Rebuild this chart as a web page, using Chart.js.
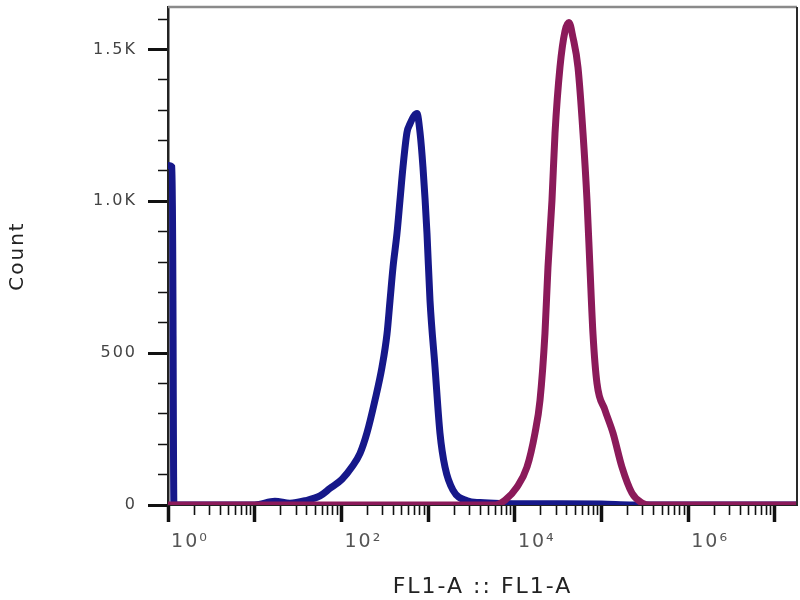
<!DOCTYPE html>
<html>
<head>
<meta charset="utf-8">
<title>FL1-A histogram</title>
<script src="https://cdn.jsdelivr.net/npm/chart.js@4.4.1/dist/chart.umd.min.js"></script>
<style>
  html, body { margin: 0; padding: 0; background: #fff; }
  #wrap { width: 800px; height: 600px; }
</style>
</head>
<body>
<div id="wrap"><canvas id="histChart" width="800" height="600"></canvas></div>
<script>
// Histograma FL1-A: intensidade (x) e contagem (y)
const blueX = [1, 1.12, 1.17, 10, 17.1, 25.5, 38, 56.6, 74, 101.6, 132, 164, 197, 244, 294, 336, 364, 394, 438, 474, 513, 571, 618, 690, 745, 807, 873, 971, 1052, 1202, 1371, 1567, 1936, 2812, 3981, 6761, 20000, 100000, 230000, 18000000];
const blueCounts = [1118, 1112, 0, 0, 12, 6, 14, 30, 55, 85, 125, 170, 237, 345, 454, 564, 674, 783, 895, 1003, 1112, 1227, 1255, 1282, 1289, 1227, 1112, 895, 674, 454, 237, 125, 49, 14, 8, 5, 4, 3, 0, 0];

const magentaX = [1, 5916, 7709, 10593, 13836, 17100, 19540, 22280, 24150, 26850, 29110, 33190, 37930, 42170, 46880, 53580, 61240, 68080, 73620, 79800, 88720, 109650, 135800, 172200, 224900, 293100, 363100, 18000000];
const magentaCounts = [0, 0, 16, 59, 125, 237, 345, 564, 783, 1003, 1224, 1441, 1560, 1589, 1540, 1441, 1224, 1003, 783, 564, 401, 313, 237, 125, 39, 7, 0, 0];

// Marcas dos eixos
const xDecades = [1, 10, 100, 1000, 10000, 100000, 1000000, 10000000];
const xMinorSteps = [2, 3, 4, 5, 6, 7, 8, 9];
const xTickLabels = { 1: '10⁰', 100: '10²', 10000: '10⁴', 1000000: '10⁶' };
const yTickValues = [0, 100, 200, 300, 400, 500, 600, 700, 800, 900, 1000, 1100, 1200, 1300, 1400, 1500, 1600];
const yTickLabels = { 0: '0', 500: '500', 1000: '1.0K', 1500: '1.5K' };

const X_MAX = 18000000;
const Y_MAX = 1640;

function isDecade(v) {
    const l = Math.log10(v);
    return Math.abs(l - Math.round(l)) < 1e-9;
}

function toPoints(xs, ys) {
    return xs.map((x, i) => ({ x: x, y: ys[i] }));
}

// Espaçamento entre letras, como no original
const wideText = {
    id: 'wideText',
    beforeUpdate(chart) { chart.ctx.letterSpacing = '2px'; },
    beforeDraw(chart) { chart.ctx.letterSpacing = '2px'; }
};

// Moldura superior e direita da área do gráfico
const plotFrame = {
    id: 'plotFrame',
    afterDatasetsDraw(chart) {
        const { ctx, chartArea } = chart;
        ctx.save();
        ctx.lineWidth = 2.5;
        ctx.strokeStyle = '#8a8a8a';
        ctx.beginPath();
        ctx.moveTo(chartArea.left, chartArea.top);
        ctx.lineTo(chartArea.right, chartArea.top);
        ctx.stroke();
        ctx.strokeStyle = '#2a2a2a';
        ctx.lineWidth = 2;
        ctx.beginPath();
        ctx.moveTo(chartArea.right, chartArea.top);
        ctx.lineTo(chartArea.right, chartArea.bottom);
        ctx.stroke();
        ctx.restore();
    }
};

function initChart() {
    const ctx = document.getElementById('histChart').getContext('2d');

    new Chart(ctx, {
        type: 'line',
        data: {
            datasets: [
                {
                    label: 'Controle',
                    data: toPoints(blueX, blueCounts),
                    borderColor: '#16188a',
                    borderWidth: 7,
                    pointRadius: 0,
                    cubicInterpolationMode: 'monotone',
                    fill: false,
                    clip: 0,
                    order: 1
                },
                {
                    label: 'Amostra',
                    data: toPoints(magentaX, magentaCounts),
                    borderColor: '#8b1a5a',
                    borderWidth: 7,
                    pointRadius: 0,
                    cubicInterpolationMode: 'monotone',
                    fill: false,
                    clip: 0,
                    order: 0
                }
            ]
        },
        options: {
            responsive: false,
            animation: false,
            layout: {
                padding: { left: 0, right: 3, top: 7, bottom: 0 }
            },
            scales: {
                x: {
                    type: 'logarithmic',
                    min: 1,
                    max: X_MAX,
                    afterBuildTicks: function(scale) {
                        const ticks = [];
                        xDecades.forEach(d => {
                            ticks.push({ value: d });
                            xMinorSteps.forEach(m => {
                                if (d * m <= X_MAX) ticks.push({ value: d * m });
                            });
                        });
                        scale.ticks = ticks;
                    },
                    afterFit: function(scale) {
                        scale.height = 95;
                        scale.paddingLeft = 0;
                        scale.paddingRight = 0;
                    },
                    border: {
                        display: true,
                        color: '#222',
                        width: 2
                    },
                    grid: {
                        display: true,
                        drawOnChartArea: false,
                        drawTicks: true,
                        tickLength: 17,
                        tickColor: '#111',
                        tickWidth: c => (c.tick && isDecade(c.tick.value)) ? 3.5 : 1.6,
                        tickBorderDash: c => (c.tick && isDecade(c.tick.value)) ? [] : [9, 100]
                    },
                    ticks: {
                        autoSkip: false,
                        maxRotation: 0,
                        minRotation: 0,
                        padding: 9,
                        labelOffset: 22,
                        color: '#555',
                        font: { family: 'DejaVu Sans', size: 19 },
                        callback: function(value) {
                            return xTickLabels[value] || '';
                        }
                    },
                    title: {
                        display: true,
                        text: 'FL1-A :: FL1-A',
                        color: '#222',
                        font: { family: 'DejaVu Sans', size: 22 },
                        padding: { top: 0, bottom: 0 }
                    }
                },
                y: {
                    type: 'linear',
                    min: 0,
                    max: Y_MAX,
                    afterBuildTicks: function(scale) {
                        scale.ticks = yTickValues.map(v => ({ value: v }));
                    },
                    afterFit: function(scale) {
                        scale.width = 168;
                        scale.paddingTop = 0;
                        scale.paddingBottom = 0;
                    },
                    border: {
                        display: true,
                        color: '#222',
                        width: 2.5
                    },
                    grid: {
                        display: true,
                        drawOnChartArea: false,
                        drawTicks: true,
                        tickLength: 20,
                        tickColor: '#111',
                        tickWidth: c => (c.tick && yTickLabels[c.tick.value] !== undefined) ? 3 : 1.6,
                        tickBorderDash: c => (c.tick && yTickLabels[c.tick.value] !== undefined) ? [] : [0, 10, 10, 100]
                    },
                    ticks: {
                        padding: 11,
                        color: '#444',
                        font: { family: 'DejaVu Sans', size: 16 },
                        callback: function(value) {
                            const label = yTickLabels[value];
                            return label !== undefined ? label : '';
                        }
                    },
                    title: {
                        display: true,
                        text: 'Count',
                        color: '#222',
                        font: { family: 'DejaVu Sans', size: 20 },
                        padding: { top: 6, bottom: 0 }
                    }
                }
            },
            plugins: {
                legend: { display: false },
                tooltip: { enabled: false }
            }
        },
        plugins: [wideText, plotFrame]
    });
}

document.addEventListener('DOMContentLoaded', initChart);
</script>
</body>
</html>
